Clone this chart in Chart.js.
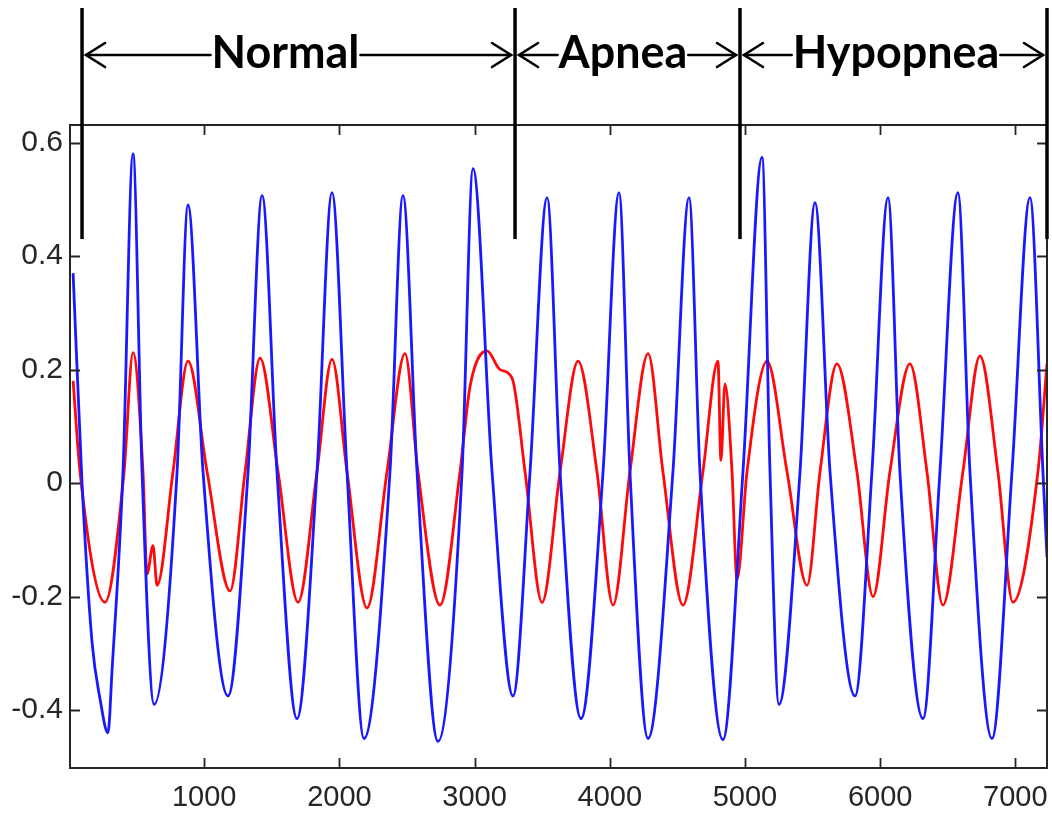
<!DOCTYPE html>
<html>
<head>
<meta charset="utf-8">
<script src="https://cdn.jsdelivr.net/npm/chart.js@4.4.1/dist/chart.umd.min.js"></script>
<style>
html,body{margin:0;padding:0;background:#fff;}
canvas{display:block;}
</style>
</head>
<body>
<canvas id="c" width="1052" height="815"></canvas>
<script>
// ---- axis ticks ----
const xTickValues = [1000, 2000, 3000, 4000, 5000, 6000, 7000];
const xTickLabels = ['1000', '2000', '3000', '4000', '5000', '6000', '7000'];
const yTickValues = [-0.4, -0.2, 0, 0.2, 0.4, 0.6];
const yTickLabels = ['-0.4', '-0.2', '0', '0.2', '0.4', '0.6'];

// ---- blue series (sample index, value) ----
const blueX = [30, 96, 170, 229, 288, 318, 399, 473, 540, 629, 799, 880, 991, 1176, 1324, 1428, 1538, 1686, 1834, 1945,
  2056, 2182, 2374, 2470, 2574, 2729, 2907, 2988, 3129, 3284, 3410, 3536, 3632, 3787, 3950, 4068, 4149, 4283, 4467, 4586,
  4667, 4837, 4985, 5126, 5185, 5251, 5407, 5518, 5629, 5814, 5939, 6058, 6146, 6317, 6442, 6575, 6664, 6827, 6975, 7108,
  7204, 7234];
const blueY = [0.37, 0.0, -0.28, -0.38, -0.44, -0.33, 0.02, 0.58, 0.02, -0.39, 0.02, 0.49, 0.02, -0.375, 0.02, 0.507, 0.02, -0.415, 0.02, 0.512,
  0.02, -0.45, 0.02, 0.507, 0.02, -0.455, 0.02, 0.554, 0.02, -0.375, 0.02, 0.503, 0.02, -0.415, 0.02, 0.512, 0.02, -0.45, 0.02, 0.503,
  0.02, -0.452, 0.02, 0.574, 0.02, -0.39, 0.02, 0.494, 0.02, -0.375, 0.02, 0.503, 0.02, -0.415, 0.02, 0.512, 0.02, -0.45, 0.02, 0.503,
  0.02, -0.13];

// ---- red series (sample index, value) ----
const redX = [30, 81, 266, 407, 473, 547, 577, 621, 651, 769, 880, 1021, 1191, 1302, 1413, 1546, 1694, 1834, 1945, 2056,
  2204, 2352, 2485, 2581, 2744, 2892, 2966, 3092, 3188, 3277, 3373, 3499, 3632, 3765, 3905, 4024, 4149, 4283, 4393, 4541,
  4689, 4800, 4822, 4852, 4904, 4941, 5015, 5163, 5311, 5459, 5555, 5680, 5828, 5947, 6072, 6220, 6346, 6464, 6612, 6738,
  6871, 6982, 7167, 7234];
const redY = [0.18, 0.02, -0.21, 0.02, 0.23, 0.02, -0.16, -0.11, -0.18, 0.02, 0.215, 0.02, -0.19, 0.02, 0.22, 0.02, -0.21, 0.02, 0.218, 0.02,
  -0.22, 0.02, 0.228, 0.02, -0.215, 0.02, 0.17, 0.233, 0.2, 0.185, 0.02, -0.21, 0.02, 0.215, 0.02, -0.215, 0.02, 0.228, 0.02, -0.215,
  0.02, 0.215, 0.04, 0.175, 0.02, -0.17, 0.02, 0.215, 0.02, -0.18, 0.02, 0.21, 0.02, -0.2, 0.02, 0.21, 0.02, -0.215, 0.02, 0.224,
  0.02, -0.21, 0.02, 0.21];

// ---- phase annotations ----
const phaseBounds = [96, 3299, 4963, 7234];
const phaseLabels = ['Normal', 'Apnea', 'Hypopnea'];
const phaseLabelX = [1601, 4097, 6117];

const toPoints = (xs, ys) => xs.map((v, i) => ({x: v, y: ys[i]}));

const bgPlugin = {
  id: 'bg',
  beforeDraw(chart) {
    const ctx = chart.ctx;
    ctx.save();
    ctx.fillStyle = '#fff';
    ctx.fillRect(0, 0, chart.width, chart.height);
    ctx.restore();
  }
};

const framePlugin = {
  id: 'frameTicks',
  afterDatasetsDraw(chart) {
    const {ctx, chartArea: a, scales: {x, y}} = chart;
    ctx.save();
    ctx.strokeStyle = '#262626';
    ctx.lineWidth = 2;
    ctx.strokeRect(a.left, a.top, a.right - a.left, a.bottom - a.top);
    ctx.lineWidth = 1.8;
    ctx.beginPath();
    xTickValues.forEach(v => {
      const px = Math.round(x.getPixelForValue(v)) + 0.5;
      ctx.moveTo(px, a.bottom); ctx.lineTo(px, a.bottom - 10);
      ctx.moveTo(px, a.top); ctx.lineTo(px, a.top + 10);
    });
    yTickValues.forEach(v => {
      const py = Math.round(y.getPixelForValue(v)) + 0.5;
      ctx.moveTo(a.left, py); ctx.lineTo(a.left + 10, py);
      ctx.moveTo(a.right, py); ctx.lineTo(a.right - 10, py);
    });
    ctx.stroke();
    ctx.restore();
  }
};

const phasePlugin = {
  id: 'phases',
  afterDraw(chart) {
    const {ctx, scales: {x, y}} = chart;
    ctx.save();
    const lineBottom = y.getPixelForValue(0.43);
    ctx.strokeStyle = '#000';
    ctx.lineWidth = 3.5;
    phaseBounds.forEach(v => {
      const px = x.getPixelForValue(v);
      ctx.beginPath();
      ctx.moveTo(px, 8);
      ctx.lineTo(px, lineBottom);
      ctx.stroke();
    });
    // fit font so label widths match
    ctx.font = 'bold 100px Lato';
    let total = 0;
    phaseLabels.forEach(t => total += ctx.measureText(t).width);
    const size = 100 * 483 / total;
    ctx.font = 'bold ' + size.toFixed(1) + 'px Lato';
    ctx.fillStyle = '#000';
    ctx.textAlign = 'center';
    ctx.textBaseline = 'alphabetic';
    const ay = 55;
    ctx.lineWidth = 2.6;
    ctx.lineCap = 'round';
    ctx.lineJoin = 'miter';
    const head = (tip, dir) => {
      ctx.beginPath();
      ctx.moveTo(tip + dir * 19, ay - 12);
      ctx.lineTo(tip, ay);
      ctx.lineTo(tip + dir * 19, ay + 12);
      ctx.stroke();
    };
    phaseLabels.forEach((t, i) => {
      const L = x.getPixelForValue(phaseBounds[i]);
      const R = x.getPixelForValue(phaseBounds[i + 1]);
      const C = x.getPixelForValue(phaseLabelX[i]);
      const w = ctx.measureText(t).width;
      ctx.fillText(t, C, 68);
      ctx.beginPath();
      ctx.moveTo(L + 4, ay); ctx.lineTo(C - w / 2 - 1, ay);
      ctx.moveTo(C + w / 2 + 1, ay); ctx.lineTo(R - 4, ay);
      ctx.stroke();
      head(L + 4, 1);
      head(R - 4, -1);
    });
    ctx.restore();
  }
};

new Chart(document.getElementById('c'), {
  type: 'line',
  data: {
    datasets: [
      {
        label: 'blue',
        data: toPoints(blueX, blueY),
        borderColor: 'rgb(25,25,255)',
        borderWidth: 2.8,
        pointRadius: 0,
        fill: false,
        cubicInterpolationMode: 'monotone'
      },
      {
        label: 'red',
        data: toPoints(redX, redY),
        borderColor: 'rgb(255,10,10)',
        borderWidth: 2.8,
        pointRadius: 0,
        fill: false,
        cubicInterpolationMode: 'monotone'
      }
    ]
  },
  options: {
    responsive: false,
    animation: false,
    devicePixelRatio: 1,
    layout: {padding: {top: 125, right: 5, left: 0, bottom: 0}},
    plugins: {legend: {display: false}, tooltip: {enabled: false}, title: {display: false}},
    scales: {
      x: {
        type: 'linear',
        min: 7,
        max: 7234,
        afterBuildTicks: s => { s.ticks = xTickValues.map(v => ({value: v})); },
        afterFit: s => { s.height = 47; s.paddingLeft = 0; s.paddingRight = 0; },
        ticks: {
          callback: (v, i) => xTickLabels[i],
          font: {family: 'Liberation Sans', size: 29},
          color: '#262626',
          padding: 13,
          maxRotation: 0,
          autoSkip: false
        },
        grid: {display: false, drawTicks: false},
        border: {display: false}
      },
      y: {
        type: 'linear',
        min: -0.502,
        max: 0.631,
        afterBuildTicks: s => { s.ticks = yTickValues.map(v => ({value: v})); },
        afterFit: s => { s.width = 70; s.paddingTop = 0; s.paddingBottom = 0; },
        ticks: {
          callback: (v, i) => yTickLabels[i],
          font: {family: 'Liberation Sans', size: 30},
          color: '#262626',
          padding: 7,
          autoSkip: false
        },
        grid: {display: false, drawTicks: false},
        border: {display: false}
      }
    }
  },
  plugins: [bgPlugin, framePlugin, phasePlugin]
});
</script>
</body>
</html>
